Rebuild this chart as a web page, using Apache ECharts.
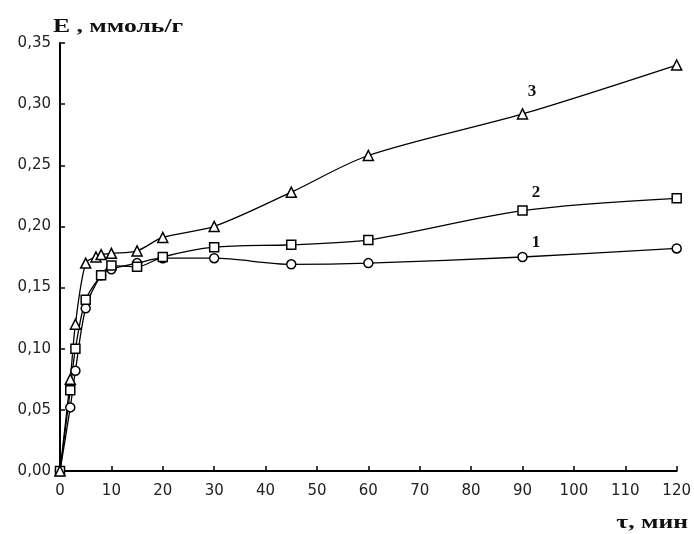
<!DOCTYPE html>
<html lang="ru">
<head>
    <meta charset="UTF-8">
    <title>E(t)</title>
    <script src="https://cdn.jsdelivr.net/npm/echarts@6/dist/echarts.min.js"></script>
    <style>
        html, body { margin: 0; padding: 0; background: #fff; }
        #main { width: 694px; height: 534px; }
    </style>
</head>
<body>
<div id="main"></div>
<script type="text/javascript">
    // время, мин и E, ммоль/г для каждой кривой
    var time1 = [0, 2, 3, 5, 8, 10, 15, 20, 30, 45, 60, 90, 120];
    var e1 = [0, 0.052, 0.082, 0.133, 0.160, 0.165, 0.170, 0.174, 0.174, 0.169, 0.170, 0.175, 0.182];

    var time2 = [0, 2, 3, 5, 8, 10, 15, 20, 30, 45, 60, 90, 120];
    var e2 = [0, 0.066, 0.100, 0.140, 0.160, 0.168, 0.167, 0.175, 0.183, 0.185, 0.189, 0.213, 0.223];

    var time3 = [0, 2, 3, 5, 7, 8, 10, 15, 20, 30, 45, 60, 90, 120];
    var e3 = [0, 0.075, 0.120, 0.170, 0.175, 0.177, 0.178, 0.180, 0.191, 0.200, 0.228, 0.258, 0.292, 0.332];

    var seriesNames = ['1', '2', '3'];
    var symbols = ['circle', 'rect', 'triangle'];

    function pairs(xs, ys) {
        return xs.map(function (x, i) {
            return [x, ys[i]];
        });
    }

    function curve(name, xs, ys, symbol, size) {
        return {
            name: name,
            type: 'line',
            data: pairs(xs, ys),
            smooth: 0.3,
            symbol: symbol,
            symbolSize: size,
            showAllSymbol: true,
            lineStyle: {color: '#000', width: 1.3},
            itemStyle: {color: '#fff', borderColor: '#000', borderWidth: 1.5},
            emphasis: {disabled: true},
            z: 3
        };
    }

    var tickFont = {fontFamily: 'DejaVu Sans', fontSize: 15, color: '#222'};
    var serif = 'Liberation Serif';

    function note(text, x, y, size, align, stretch) {
        return {
            type: 'text', x: x, y: y, scaleX: stretch,
            style: {text: text, font: 'bold ' + size + 'px "' + serif + '"', fill: '#111',
                textAlign: align, textVerticalAlign: 'middle'}
        };
    }

    var myChart = echarts.init(document.getElementById('main'));
    var option = {
        backgroundColor: '#fff',
        animation: false,
        grid: {left: 60, right: 16, top: 43, bottom: 63},
        xAxis: {
            type: 'value',
            min: 0,
            max: 120,
            interval: 10,
            axisLine: {lineStyle: {color: '#000', width: 2}},
            axisTick: {inside: true, length: 5, lineStyle: {color: '#000', width: 1.5}},
            axisLabel: Object.assign({margin: 13}, tickFont),
            splitLine: {show: false}
        },
        yAxis: {
            type: 'value',
            min: 0,
            max: 0.35,
            interval: 0.05,
            axisLine: {show: true, lineStyle: {color: '#000', width: 2}},
            axisTick: {show: true, inside: true, length: 5, lineStyle: {color: '#000', width: 1.5}},
            axisLabel: Object.assign({
                margin: 9,
                formatter: function (v) {
                    return v.toFixed(2).replace('.', ',');
                }
            }, tickFont),
            splitLine: {show: false}
        },
        series: [
            curve(seriesNames[0], time1, e1, symbols[0], 9),
            curve(seriesNames[1], time2, e2, symbols[1], 9),
            curve(seriesNames[2], time3, e3, symbols[2], 10)
        ],
        graphic: [
            note('Е , ммоль/г', 53, 27, 19, 'left', 1.35),
            note('τ, мин', 688, 523, 19, 'right', 1.35),
            note('3', 532, 92, 17, 'center', 1),
            note('2', 536, 193, 17, 'center', 1),
            note('1', 536, 243, 17, 'center', 1)
        ]
    };

    myChart.setOption(option);
</script>
</body>
</html>
